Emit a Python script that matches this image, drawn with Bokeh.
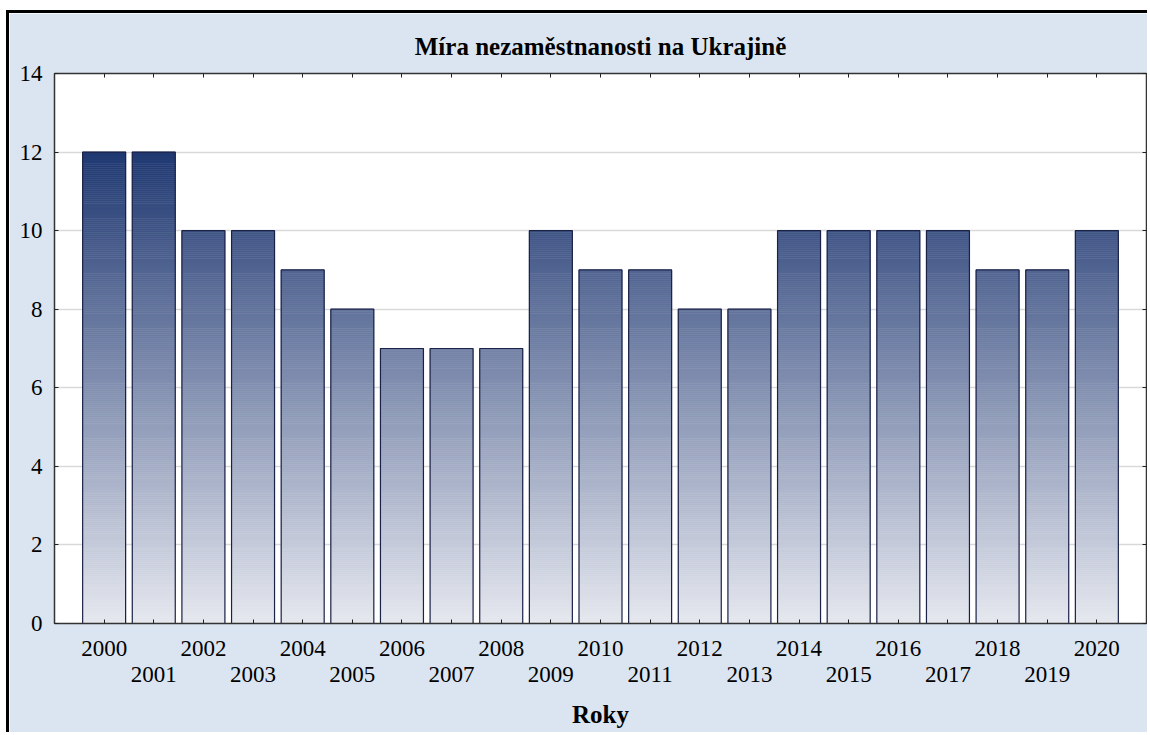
import numpy as np
from bokeh.plotting import figure
from bokeh.models import LinearAxis, FixedTicker, Range1d, ColumnDataSource, Grid
from bokeh.embed import file_html
from bokeh.resources import INLINE

years = [str(y) for y in range(2000, 2021)]
rates = [12, 12, 10, 10, 9, 8, 7, 7, 7, 10, 9, 9, 8, 8, 10, 10, 10, 10, 9, 9, 10]
y_ticks = [0, 2, 4, 6, 8, 10, 12, 14]
chart_title = "Míra nezaměstnanosti na Ukrajině"
x_title = "Roky"

FONT = "Liberation Serif"
BG = "#dbe5f1"
LIGHT = np.array([230, 232, 239])
DARK = np.array([32, 57, 114])

p = figure(width=1141, height=722, x_range=Range1d(-1, 21), y_range=Range1d(0, 14),
           output_backend="svg", toolbar_location=None,
           x_axis_location=None, y_axis_location=None,
           min_border_left=45, min_border_right=4, min_border_top=60, min_border_bottom=112,
           background_fill_color="white", border_fill_color=BG,
           outline_line_color="#222222")
p.styles = {"border-left": "3px solid black", "border-top": "3px solid black",
            "margin-left": "6px", "margin-top": "10px"}
p.center = [r for r in p.center if not isinstance(r, Grid)]

p.title.text = chart_title
p.title.align = "center"
p.title.text_font = FONT
p.title.text_font_size = "25px"
p.title.text_font_style = "bold"
p.title.text_color = "black"
p.title.standoff = 28

# gradient bars as thin horizontal slices
dy = 0.05
bw = 0.866
L, R, B, T, C = [], [], [], [], []
for i, v in enumerate(rates):
    n = int(np.ceil(v / dy - 1e-9))
    for k in range(n):
        b = k * dy
        t = min(b + dy, v)
        f = min(((b + t) / 2) / 12.0, 1.0)
        c = LIGHT + (DARK - LIGHT) * f
        L.append(i - bw / 2); R.append(i + bw / 2); B.append(b); T.append(t)
        C.append("#%02x%02x%02x" % tuple(int(round(x)) for x in c))
src = ColumnDataSource(dict(left=L, right=R, bottom=B, top=T, color=C))
p.quad(left="left", right="right", bottom="bottom", top="top", source=src,
       fill_color="color", line_color="color", line_width=0.6)

xs = list(range(len(years)))
bars = ColumnDataSource(dict(x=xs, top=rates))
p.vbar(x="x", top="top", width=bw, source=bars, fill_color=None,
       line_color="#1b2248", line_width=1.2)

def style_axis(ax):
    ax.major_tick_in = 4
    ax.major_tick_out = 0
    ax.minor_tick_line_color = None
    ax.major_tick_line_color = "#222222"
    ax.axis_line_color = "#333333"
    ax.axis_line_width = 1.5
    ax.major_label_text_font = FONT
    ax.major_label_text_font_size = "23px"
    ax.major_label_text_color = "black"

yt = FixedTicker(ticks=y_ticks)
left = LinearAxis(ticker=yt)
style_axis(left)
left.major_label_standoff = 12
p.add_layout(left, "left")

right = LinearAxis(ticker=yt, major_label_overrides={t: "" for t in y_ticks})
style_axis(right)
right.major_label_standoff = 0
p.add_layout(right, "right")

xt = FixedTicker(ticks=xs)
top = LinearAxis(ticker=xt, major_label_overrides={i: "" for i in xs})
style_axis(top)
top.major_label_standoff = 0
p.add_layout(top, "above")

even = LinearAxis(ticker=xt, major_label_overrides={i: (years[i] if i % 2 == 0 else "") for i in xs})
style_axis(even)
even.major_label_standoff = 17
p.add_layout(even, "below")

odd = LinearAxis(ticker=xt, major_label_overrides={i: (years[i] if i % 2 == 1 else "") for i in xs})
style_axis(odd)
odd.axis_line_color = None
odd.major_tick_line_color = None
odd.major_label_standoff = 8
odd.axis_label = x_title
odd.axis_label_text_font = FONT
odd.axis_label_text_font_size = "25px"
odd.axis_label_text_font_style = "bold"
odd.axis_label_text_color = "black"
odd.axis_label_standoff = 16
p.add_layout(odd, "below")

p.add_layout(Grid(dimension=1, ticker=yt, grid_line_color="#d9d9d9", grid_line_width=1.5))

open("out.html", "w").write(file_html(p, INLINE))
